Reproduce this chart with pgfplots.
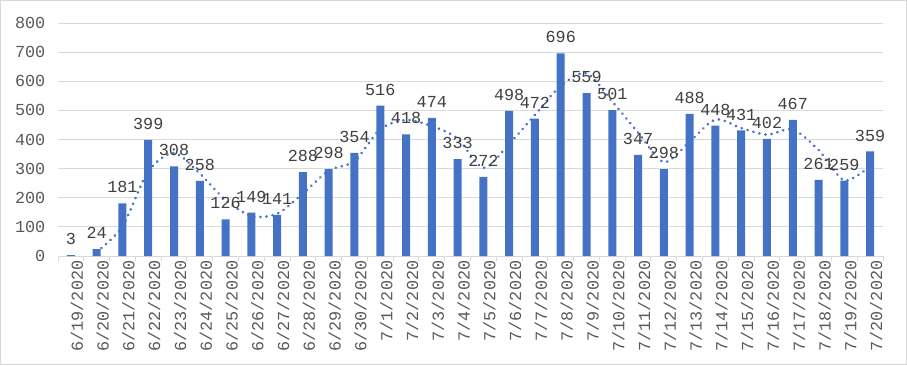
\documentclass[border=0pt]{standalone}
\usepackage{pgfplots}
\pgfplotsset{compat=1.18}
\usepackage{fontspec}
\setmainfont{Liberation Mono}
\definecolor{barblue}{RGB}{68,114,196}
\definecolor{gridgray}{RGB}{217,217,217}
\definecolor{ticktext}{RGB}{89,89,89}
\definecolor{labeltext}{RGB}{64,64,64}
\begin{document}
\begin{tikzpicture}[x=1pt,y=1pt]
\useasboundingbox (0,0) rectangle (680.25,273.75);
\draw[gridgray, line width=0.75pt] (0.375,0.375) rectangle (679.875,273.375);
\begin{axis}[
  at={(43.5pt,81.75pt)}, anchor=south west,
  scale only axis, width=618.75pt, height=174.75pt,
  xmin=-0.5, xmax=31.5, ymin=0, ymax=800,
  axis line style={draw=none},
  ymajorgrids, grid style={gridgray, line width=0.75pt},
  ytick={0,100,...,800},
  xtick={0,...,31},
  xticklabels={6/19/2020,6/20/2020,6/21/2020,6/22/2020,6/23/2020,6/24/2020,6/25/2020,6/26/2020,6/27/2020,6/28/2020,6/29/2020,6/30/2020,7/1/2020,7/2/2020,7/3/2020,7/4/2020,7/5/2020,7/6/2020,7/7/2020,7/8/2020,7/9/2020,7/10/2020,7/11/2020,7/12/2020,7/13/2020,7/14/2020,7/15/2020,7/16/2020,7/17/2020,7/18/2020,7/19/2020,7/20/2020},
  minor xtick={-0.5,0.5,...,31.5},
  xtick pos=bottom, ytick pos=left,
  major tick length=0pt,
  minor tick length=4pt,
  tick align=outside,
  minor tick style={gridgray, line width=0.75pt},
  /pgf/number format/assume math mode=true,
  tick label style={font=\fontsize{12.6}{14}\selectfont, color=ticktext},
  yticklabel style={anchor=east, xshift=-6pt},
  xticklabel style={rotate=90, anchor=east, yshift=-4.5pt},
]
\addplot[ybar, bar width=6pt, fill=barblue, draw=none,
  nodes near coords,
  every node near coord/.append style={font=\fontsize{12.6}{14}\selectfont, color=labeltext, anchor=south, inner sep=2pt, yshift=5.5pt},
  /pgf/number format/assume math mode=true]
  coordinates {
  (0,3) (1,24) (2,181) (3,399) (4,308) (5,258) (6,126) (7,149)
  (8,141) (9,288) (10,298) (11,354) (12,516) (13,418) (14,474) (15,333)
  (16,272) (17,498) (18,472) (19,696) (20,559) (21,501) (22,347) (23,298)
  (24,488) (25,448) (26,431) (27,402) (28,467) (29,261) (30,259) (31,359)
  };
\addplot[color=barblue, line width=2.2pt, smooth, line cap=round, dash pattern=on 0.01pt off 4.6pt, mark=none]
  coordinates {
  (1,13.5) (2,102.5) (3,290) (4,353.5) (5,283) (6,192) (7,137.5) (8,145)
  (9,214.5) (10,293) (11,326) (12,435) (13,467) (14,446) (15,403.5) (16,302.5)
  (17,385) (18,485) (19,584) (20,627.5) (21,530) (22,424) (23,322.5) (24,393)
  (25,468) (26,439.5) (27,416.5) (28,434.5) (29,364) (30,260) (31,309)
  };
\end{axis}
\end{tikzpicture}
\end{document}
